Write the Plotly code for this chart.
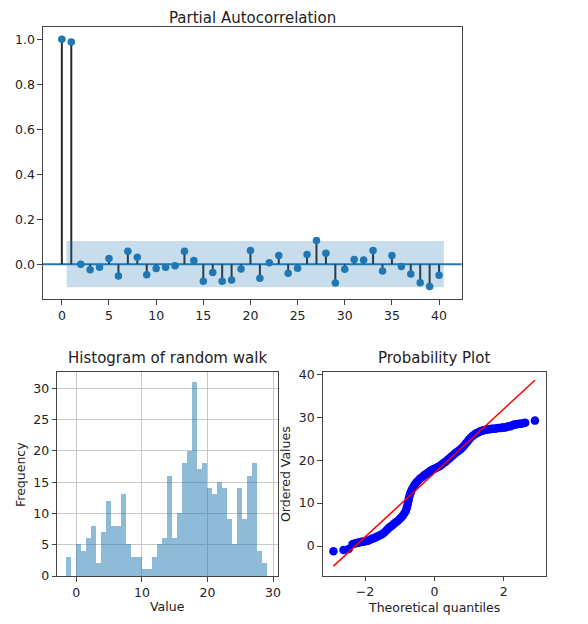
import plotly.graph_objects as go
import numpy as np

# PACF values (lags 0..40)
pacf_lags = list(range(41))
pacf_vals = [1.0, 0.988, 0.0, -0.025, -0.013, 0.025, -0.053, 0.058, 0.031, -0.047,
             -0.019, -0.013, -0.007, 0.058, 0.016, -0.076, -0.037, -0.076, -0.07, -0.021,
             0.061, -0.062, 0.006, 0.039, -0.04, -0.018, 0.043, 0.105, 0.049, -0.084,
             -0.022, 0.021, 0.019, 0.061, -0.03, 0.039, -0.01, -0.044, -0.083, -0.099,
             -0.049]
conf_band = 0.103

# Histogram of random walk (40 bins)
hist_start = -1.52
hist_width = 0.7675
hist_counts = [3, 0, 5, 4, 6, 8, 2, 7, 12, 8,
               8, 13, 5, 3, 3, 1, 1, 3, 5, 6,
               16, 6, 10, 18, 20, 31, 17, 18, 14, 13,
               15, 14, 9, 5, 14, 9, 16, 18, 4, 2]

# Probability plot (theoretical quantile vs ordered value)
qq_theo = [-2.91, -2.62, -2.47, -2.36, -2.30, -2.25, -2.20, -2.15, -2.10, -2.05,
           -2.00, -1.95, -1.90, -1.85, -1.80, -1.75, -1.70, -1.65, -1.60, -1.55,
           -1.50, -1.45, -1.40, -1.35, -1.30, -1.25, -1.20, -1.15, -1.10, -1.05,
           -1.00, -0.95, -0.90, -0.86, -0.82, -0.80, -0.78, -0.765, -0.75, -0.735,
           -0.72, -0.70, -0.68, -0.65, -0.62, -0.58, -0.55, -0.50, -0.45, -0.40,
           -0.35, -0.30, -0.25, -0.20, -0.15, -0.10, -0.05, 0.00, 0.05, 0.10,
           0.15, 0.20, 0.25, 0.30, 0.35, 0.40, 0.45, 0.50, 0.55, 0.60,
           0.65, 0.70, 0.75, 0.80, 0.85, 0.90, 0.95, 1.00, 1.05, 1.10,
           1.15, 1.20, 1.25, 1.30, 1.35, 1.40, 1.45, 1.50, 1.55, 1.60,
           1.65, 1.70, 1.75, 1.80, 1.85, 1.90, 1.95, 2.00, 2.05, 2.10,
           2.15, 2.20, 2.25, 2.30, 2.35, 2.40, 2.45, 2.50, 2.56, 2.62,
           2.90]
qq_vals = [-1.2, -0.9, -0.7, 0.4, 0.6, 0.7, 0.8, 0.9, 1.0, 1.0,
           1.1, 1.2, 1.3, 1.5, 1.7, 1.8, 2.0, 2.2, 2.4, 2.6,
           2.8, 3.1, 3.5, 3.9, 4.3, 4.6, 4.9, 5.3, 5.6, 5.9,
           6.3, 6.7, 7.2, 7.7, 8.2, 8.8, 9.3, 9.9, 10.5, 11.0,
           11.6, 12.1, 12.6, 13.1, 13.6, 14.1, 14.5, 15.0, 15.4, 15.8,
           16.1, 16.4, 16.7, 17.0, 17.3, 17.6, 17.8, 18.0, 18.2, 18.4,
           18.6, 18.9, 19.2, 19.5, 19.8, 20.2, 20.5, 20.9, 21.2, 21.6,
           21.9, 22.2, 22.5, 22.9, 23.3, 23.8, 24.3, 24.8, 25.2, 25.6,
           25.9, 26.2, 26.4, 26.6, 26.8, 26.9, 27.0, 27.1, 27.2, 27.2,
           27.3, 27.3, 27.3, 27.4, 27.5, 27.5, 27.6, 27.6, 27.6, 27.8,
           27.9, 27.9, 28.1, 28.3, 28.3, 28.4, 28.5, 28.5, 28.6, 28.7,
           29.2]
fit_slope = 7.45
fit_intercept = 17.0

BLUE = '#1f77b4'
FONT = 'DejaVu Sans'
TXT = '#222222'

fig = go.Figure()

# --- PACF stems
sx, sy = [], []
for l, v in zip(pacf_lags, pacf_vals):
    sx += [l, l, None]
    sy += [0, v, None]
fig.add_trace(go.Scatter(x=sx, y=sy, mode='lines', line=dict(color='#2b2b2b', width=2),
                         xaxis='x', yaxis='y', showlegend=False, hoverinfo='skip'))
# markers
fig.add_trace(go.Scatter(x=pacf_lags, y=pacf_vals, mode='markers',
                         marker=dict(color=BLUE, size=7.5), xaxis='x', yaxis='y',
                         showlegend=False))
# confidence band
bx0 = pacf_lags[1] - 0.5
bx1 = pacf_lags[-1] + 0.5
fig.add_trace(go.Scatter(x=[bx0, bx1, bx1, bx0, bx0],
                         y=[-conf_band, -conf_band, conf_band, conf_band, -conf_band],
                         fill='toself', fillcolor='rgba(31,119,180,0.25)',
                         line=dict(width=0), mode='lines', xaxis='x', yaxis='y',
                         showlegend=False, hoverinfo='skip'))
# zero line
fig.add_shape(type='line', xref='x domain', yref='y', x0=0, x1=1, y0=0, y1=0,
              line=dict(color=BLUE, width=2), layer='below')

# --- Histogram
centers = hist_start + hist_width * (np.arange(len(hist_counts)) + 0.5)
fig.add_trace(go.Bar(x=centers, y=hist_counts, width=hist_width,
                     marker=dict(color='rgba(31,119,180,0.5)', line=dict(width=0)),
                     xaxis='x2', yaxis='y2', showlegend=False))

# --- Probability plot
fig.add_trace(go.Scatter(x=qq_theo, y=qq_vals, mode='markers',
                         marker=dict(color='#0000ff', size=8.5), xaxis='x3', yaxis='y3',
                         showlegend=False))
lx = [qq_theo[0], qq_theo[-1]]
fig.add_trace(go.Scatter(x=lx, y=[fit_slope * v + fit_intercept for v in lx], mode='lines',
                         line=dict(color='#ff0000', width=1.5), xaxis='x3', yaxis='y3',
                         showlegend=False))

axis_common = dict(showline=True, mirror=True, linecolor='#444444', linewidth=1,
                   ticks='outside', ticklen=4.5, tickcolor='#444444', automargin=False,
                   tickfont=dict(family=FONT, size=12.5, color=TXT), zeroline=False)

# domains are shifted to allow for the page's 8px body margin
fig.update_layout(
    width=588, height=624,
    margin=dict(l=0, r=0, t=0, b=0),
    paper_bgcolor='white', plot_bgcolor='white',
    showlegend=False, bargap=0,
    xaxis=dict(domain=[0.0595, 0.7716], range=[-2.0, 42.4], tickvals=list(range(0, 41, 5)),
               showgrid=False, anchor='y', **axis_common),
    yaxis=dict(domain=[0.5332, 0.9696], range=[-0.156, 1.055],
               tickvals=[0.0, 0.2, 0.4, 0.6, 0.8, 1.0], tickformat='.1f',
               showgrid=False, anchor='x', **axis_common),
    xaxis2=dict(domain=[0.0838, 0.4597], range=[-2.9, 30.8], tickvals=[0, 10, 20, 30],
                showgrid=True, gridcolor='#c8c8c8', gridwidth=1, anchor='y2', **axis_common),
    yaxis2=dict(domain=[0.0897, 0.4162], range=[0, 32.55], tickvals=[0, 5, 10, 15, 20, 25, 30],
                showgrid=True, gridcolor='#c8c8c8', gridwidth=1, anchor='x2', **axis_common),
    xaxis3=dict(domain=[0.5352, 0.9150], range=[-3.22, 3.22], tickvals=[-2, 0, 2],
                showgrid=False, anchor='y3', **axis_common),
    yaxis3=dict(domain=[0.0902, 0.4162], range=[-6.9, 40.45], tickvals=[0, 10, 20, 30, 40],
                showgrid=False, anchor='x3', **axis_common),
)

def label(text, x, y, size=12.5, angle=0, yanchor='middle'):
    fig.add_annotation(x=x, y=y, xref='paper', yref='paper', text=text, showarrow=False,
                       xanchor='center', yanchor=yanchor, textangle=angle, borderpad=0,
                       font=dict(family=FONT, size=size, color=TXT))

label('Partial Autocorrelation', 0.415, 1.0, size=15, yanchor='top')
label('Histogram of random walk', 0.2718, 0.4391, size=15)
label('Probability Plot', 0.725, 0.4391, size=15)
label('Value', 0.2718, 0.0406)
label('Frequency', 0.0204, 0.2532, angle=-90)
label('Theoretical quantiles', 0.725, 0.0396)
label('Ordered Values', 0.4711, 0.2532, angle=-90)

fig.write_html('out.html')
